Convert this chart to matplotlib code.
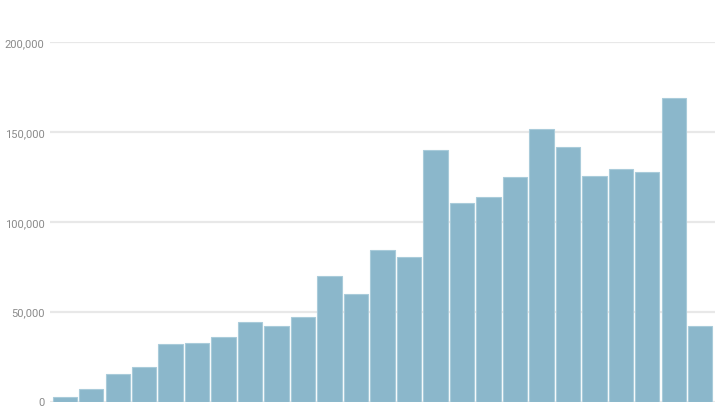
import matplotlib
matplotlib.use("Agg")
import matplotlib.pyplot as plt
from matplotlib.ticker import FuncFormatter

# bar heights, left to right
values = [2700, 7000, 15500, 19000, 31800, 32800, 36000, 44500, 42000, 47200,
          69800, 60000, 84500, 80200, 139800, 110400, 114000, 125200, 152000,
          141600, 125800, 129300, 128000, 168800, 41900]
y_ticks = [0, 50000, 100000, 150000, 200000]

bar_color = "#8bb7cb"
grid_color = "#e8e8e8"
label_color = "#8a8a8a"

fig = plt.figure(figsize=(7.28, 4.10), dpi=100)
ax = fig.add_axes([50 / 728, 1 - 402.5 / 410, 665 / 728, 359.2 / 410])

x = list(range(len(values)))
ax.bar(x, values, width=0.91, color=bar_color, edgecolor="#a9cbda",
       linewidth=0.8, zorder=2)

ax.set_xlim(-0.55, len(values) - 0.45)
ax.set_ylim(0, 200000)
ax.set_yticks(y_ticks)
ax.yaxis.set_major_formatter(FuncFormatter(lambda v, p: f"{int(v):,}"))
ax.set_xticks([])
ax.grid(axis="y", color=grid_color, linewidth=1.6, zorder=0)
ax.set_axisbelow(True)
for s in ax.spines.values():
    s.set_visible(False)
ax.tick_params(axis="y", length=0, pad=4, labelsize=8, labelcolor=label_color)
for lab in ax.get_yticklabels():
    lab.set_fontfamily("Roboto")

fig.savefig("out.png", dpi=100)
